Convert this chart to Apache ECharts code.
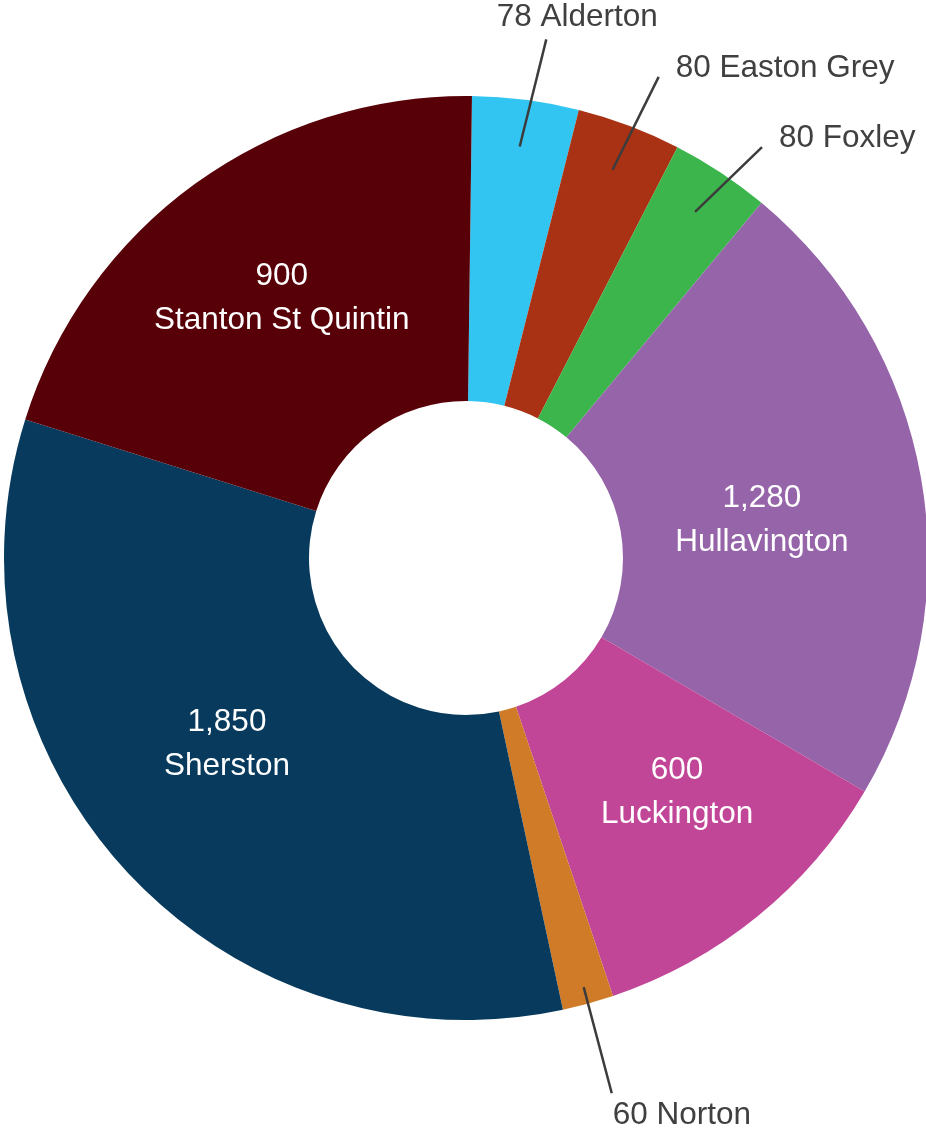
<!DOCTYPE html>
<html>
<head>
<meta charset="utf-8">
<script src="https://cdn.jsdelivr.net/npm/echarts@6/dist/echarts.min.js"></script>
<style>
html, body { margin: 0; padding: 0; background: #fff; }
#chart { width: 926px; height: 1131px; }
</style>
</head>
<body>
<div id="chart"></div>
<script>
const places = ['Alderton', 'Easton Grey', 'Foxley', 'Hullavington', 'Luckington', 'Norton', 'Sherston', 'Stanton St Quintin'];
const homes = [78, 80, 80, 1280, 600, 60, 1850, 900];
// share of the ring each slice takes (%)
const shares = [3.72, 3.64, 3.48, 22.39, 11.41, 1.79, 33.21, 20.36];
const colors = ['#33c5f2', '#a93214', '#3bb54c', '#9564a9', '#c24697', '#cf7b28', '#073a5c', '#570008'];
const outsidePlaces = ['Alderton', 'Easton Grey', 'Foxley', 'Norton'];

const START = 89.26;
const fontFamily = '"Liberation Sans", Arial, sans-serif';
const fmt = v => v.toLocaleString('en-GB');

// small nudges so the inside labels sit where the original put them
const insideNudge = {
    'Hullavington': [-12, 16],
    'Luckington': [14, -8],
    'Sherston': [-8, -24],
    'Stanton St Quintin': [-1, -7]
};

// mid angle of each slice, clockwise from 12 o'clock
const total = shares.reduce((a, b) => a + b, 0);
let acc = 0;
const midAngles = shares.map(s => {
    const m = (90 - START) + (acc + s / 2) / total * 360;
    acc += s;
    return m;
});

const chart = echarts.init(document.getElementById('chart'));
chart.setOption({
    animation: false,
    series: [
        {
            // the visible ring with the inside labels
            type: 'pie',
            z: 2,
            center: [466, 558],
            radius: [157, 462],
            startAngle: START,
            avoidLabelOverlap: false,
            label: {
                position: 'inside',
                color: '#ffffff',
                fontFamily: fontFamily,
                fontSize: 31.5,
                lineHeight: 44,
                formatter: p => fmt(p.data.homes) + '\n' + p.name
            },
            labelLine: { show: false },
            labelLayout: function (params) {
                const n = insideNudge[places[params.dataIndex]];
                return n ? { dx: n[0], dy: n[1] } : {};
            },
            data: places.map((name, i) => ({
                name: name,
                value: shares[i],
                homes: homes[i],
                itemStyle: { color: colors[i] },
                label: { show: !outsidePlaces.includes(name) }
            }))
        },
        {
            // same slices, invisible, drawn on top to carry the leader lines that start inside the ring
            type: 'pie',
            z: 5,
            silent: true,
            center: [466, 558],
            radius: [0, 415],
            startAngle: START,
            avoidLabelOverlap: false,
            itemStyle: { color: 'rgba(0,0,0,0)' },
            label: {
                position: 'outside',
                color: '#404040',
                fontFamily: fontFamily,
                fontSize: 31.5,
                lineHeight: 34,
                formatter: p => fmt(p.data.homes) + ' ' + p.name
            },
            labelLine: {
                length2: 0,
                lineStyle: { color: '#3c3c3c', width: 2.5 }
            },
            labelLayout: function (params) {
                if (!outsidePlaces.includes(places[params.dataIndex]) || !params.labelLinePoints) return {};
                const p0 = params.labelLinePoints[0];
                const p1 = params.labelLinePoints[1];
                const len = Math.hypot(p1[0] - p0[0], p1[1] - p0[1]);
                const ux = (p1[0] - p0[0]) / len;
                const uy = (p1[1] - p0[1]) / len;
                let x, y, start = p0, end, align = 'left';
                if (uy < -0.95) {
                    align = 'center';
                    x = p1[0] + 44;
                    y = p1[1] - 25;
                    end = [x - 31, y + 22];
                } else if (uy > 0.95) {
                    x = p1[0];
                    y = p1[1] + 22;
                    start = [p0[0] + ux * 30, p0[1] + uy * 30];
                    end = [x - 1, y - 22];
                } else {
                    x = p1[0] + 26;
                    y = p1[1] + 5 + (uy + 0.885) * 170;
                    end = [x - 17, y + 9];
                }
                return {
                    x: x,
                    y: y,
                    align: align,
                    verticalAlign: 'middle',
                    labelLinePoints: [start, end, end]
                };
            },
            data: places.map((name, i) => {
                const outside = outsidePlaces.includes(name);
                const lower = midAngles[i] > 90 && midAngles[i] < 270;
                return {
                    name: name,
                    value: shares[i],
                    homes: homes[i],
                    label: { show: outside },
                    labelLine: { show: outside, length: lower ? 140 : 105 }
                };
            })
        }
    ]
});
</script>
</body>
</html>
